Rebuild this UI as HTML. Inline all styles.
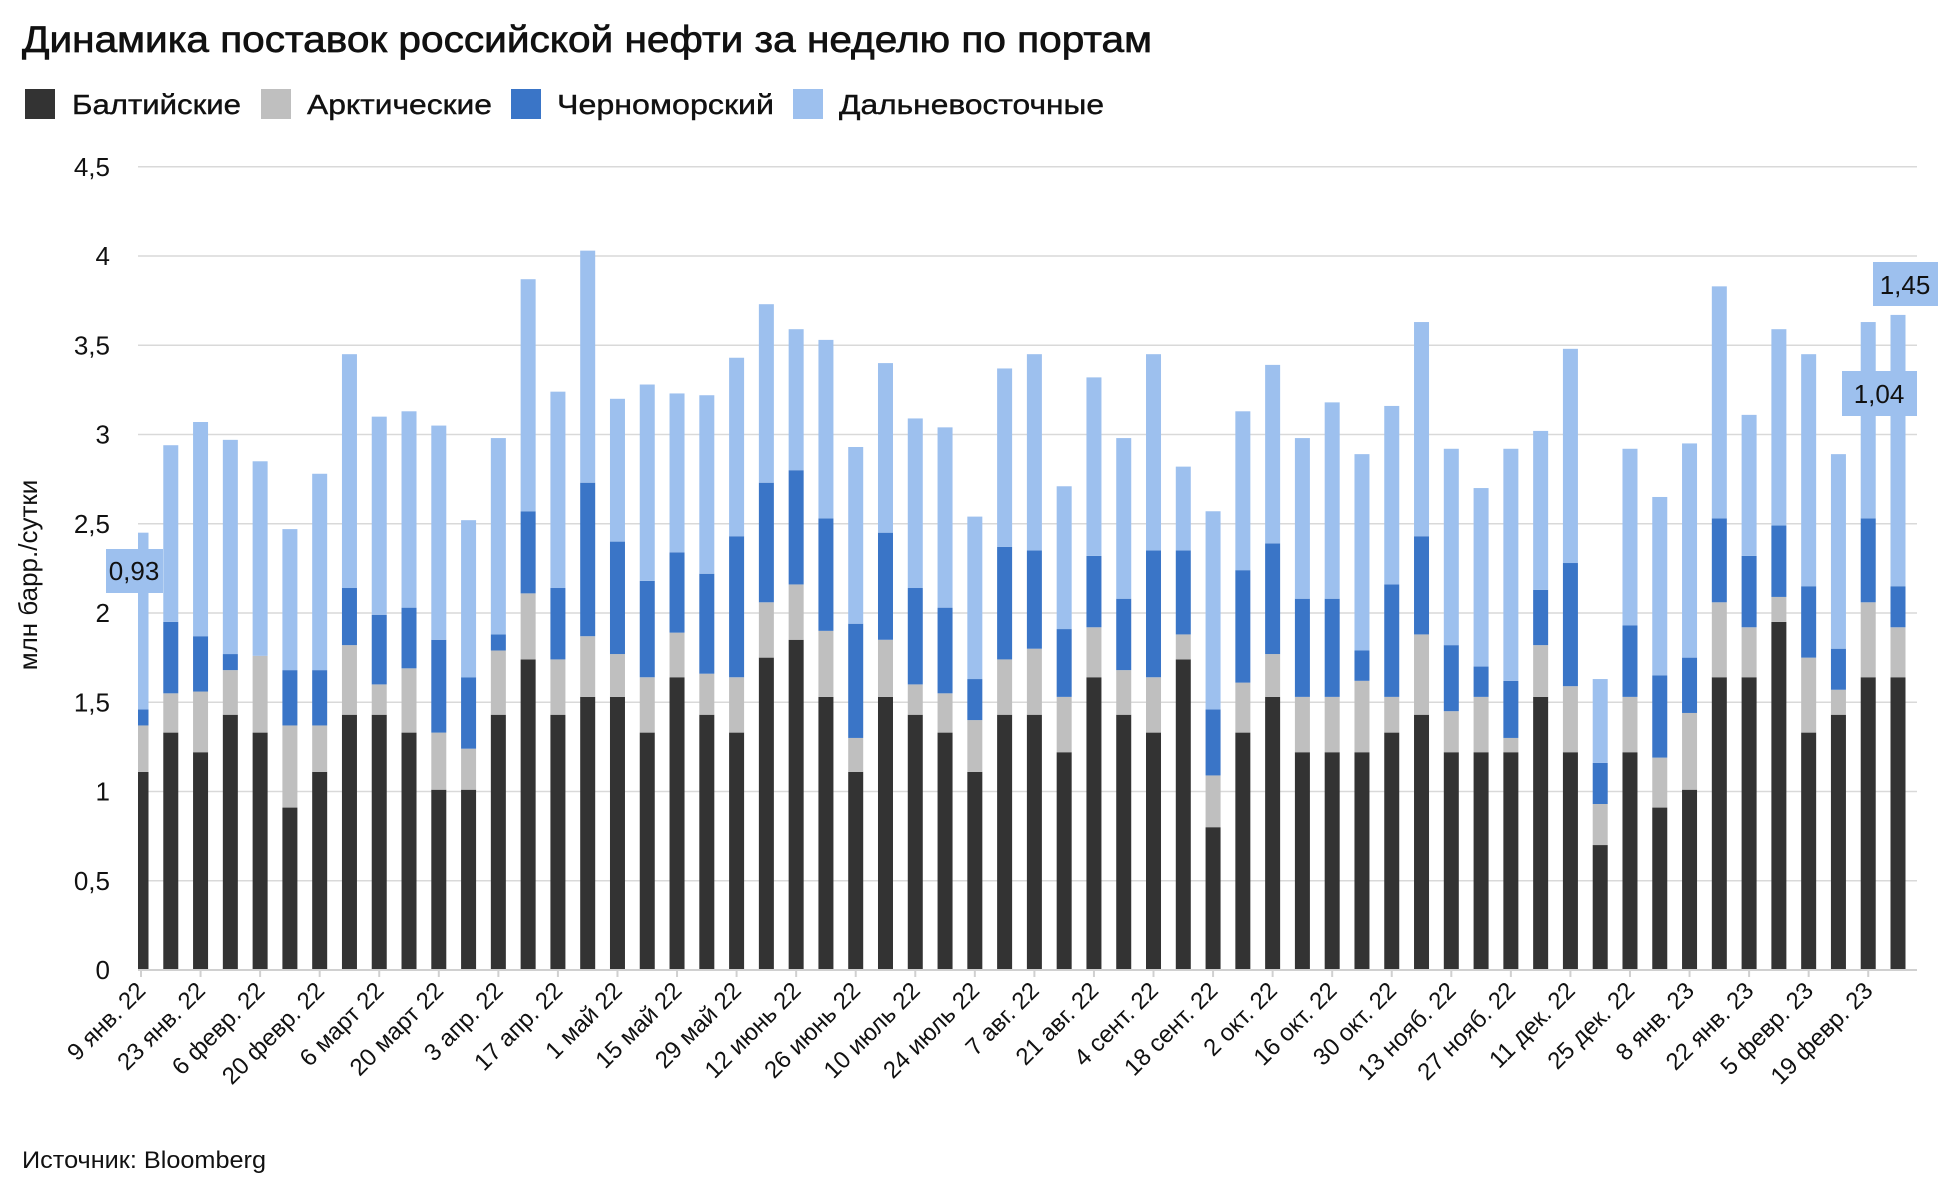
<!DOCTYPE html>
<html><head><meta charset="utf-8"><style>
html,body{margin:0;padding:0;background:#fff;}
svg{display:block;font-family:"Liberation Sans","DejaVu Sans",sans-serif;}
</style></head><body>
<svg id="chart" width="1948" height="1186" viewBox="0 0 1948 1186" xmlns="http://www.w3.org/2000/svg">
<text x="22" y="52" font-size="37" textLength="1130" lengthAdjust="spacingAndGlyphs" fill="#111" stroke="#111" stroke-width="0.7">Динамика поставок российской нефти за неделю по портам</text>
<g>
<g><rect x="25" y="89" width="30" height="30" fill="#333333"/><text x="72" y="114" font-size="28" textLength="169" lengthAdjust="spacingAndGlyphs" fill="#111" stroke="#111" stroke-width="0.4">Балтийские</text></g>
<g><rect x="261" y="89" width="30" height="30" fill="#bfbfbf"/><text x="307" y="114" font-size="28" textLength="185" lengthAdjust="spacingAndGlyphs" fill="#111" stroke="#111" stroke-width="0.4">Арктические</text></g>
<g><rect x="511" y="89" width="30" height="30" fill="#3a75c7"/><text x="557" y="114" font-size="28" textLength="217" lengthAdjust="spacingAndGlyphs" fill="#111" stroke="#111" stroke-width="0.4">Черноморский</text></g>
<g><rect x="793" y="89" width="30" height="30" fill="#9dc0ee"/><text x="839" y="114" font-size="28" textLength="265" lengthAdjust="spacingAndGlyphs" fill="#111" stroke="#111" stroke-width="0.4">Дальневосточные</text></g>
</g>
<text transform="translate(37,575) rotate(-90)" text-anchor="middle" font-size="26" fill="#111">млн барр./сутки</text>
<g id="grid"></g><g id="bars"></g><g id="xaxis"></g>
<g><rect x="106" y="549" width="57" height="44" fill="#9dc0ee"/><text x="134" y="580" text-anchor="middle" font-size="26" fill="#111">0,93</text></g>
<g><rect x="1842" y="371" width="75" height="45" fill="#9dc0ee"/><text x="1879" y="403" text-anchor="middle" font-size="26" fill="#111">1,04</text></g>
<g><rect x="1873" y="262" width="65" height="44" fill="#9dc0ee"/><text x="1905" y="294" text-anchor="middle" font-size="26" fill="#111">1,45</text></g>
<text x="22" y="1168" font-size="24" textLength="244" lengthAdjust="spacingAndGlyphs" fill="#111">Источник: Bloomberg</text>
</svg>
<script>
const baltic=[1.11,1.33,1.22,1.43,1.33,0.91,1.11,1.43,1.43,1.33,1.01,1.01,1.43,1.74,1.43,1.53,1.53,1.33,1.64,1.43,1.33,1.75,1.85,1.53,1.11,1.53,1.43,1.33,1.11,1.43,1.43,1.22,1.64,1.43,1.33,1.74,0.80,1.33,1.53,1.22,1.22,1.22,1.33,1.43,1.22,1.22,1.22,1.53,1.22,0.70,1.22,0.91,1.01,1.64,1.64,1.95,1.33,1.43,1.64,1.64];
const arctic=[0.26,0.22,0.34,0.25,0.43,0.46,0.26,0.39,0.17,0.36,0.32,0.23,0.36,0.37,0.31,0.34,0.24,0.31,0.25,0.23,0.31,0.31,0.31,0.37,0.19,0.32,0.17,0.22,0.29,0.31,0.37,0.31,0.28,0.25,0.31,0.14,0.29,0.28,0.24,0.31,0.31,0.40,0.20,0.45,0.23,0.31,0.08,0.29,0.37,0.23,0.31,0.28,0.43,0.42,0.28,0.14,0.42,0.14,0.42,0.28];
const blackSea=[0.09,0.40,0.31,0.09,0.00,0.31,0.31,0.32,0.39,0.34,0.52,0.40,0.09,0.46,0.40,0.86,0.63,0.54,0.45,0.56,0.79,0.67,0.64,0.63,0.64,0.60,0.54,0.48,0.23,0.63,0.55,0.38,0.40,0.40,0.71,0.47,0.37,0.63,0.62,0.55,0.55,0.17,0.63,0.55,0.37,0.17,0.32,0.31,0.69,0.23,0.40,0.46,0.31,0.47,0.40,0.40,0.40,0.23,0.47,0.23];
const farEast=[0.99,0.99,1.20,1.20,1.09,0.79,1.10,1.31,1.11,1.10,1.20,0.88,1.10,1.30,1.10,1.30,0.80,1.10,0.89,1.00,1.00,1.00,0.79,1.00,0.99,0.95,0.95,1.01,0.91,1.00,1.10,0.80,1.00,0.90,1.10,0.47,1.11,0.89,1.00,0.90,1.10,1.10,1.00,1.20,1.10,1.00,1.30,0.89,1.20,0.47,0.99,1.00,1.20,1.30,0.79,1.10,1.30,1.09,1.10,1.52];
const xLabels=["9 янв. 22","23 янв. 22","6 февр. 22","20 февр. 22","6 март 22","20 март 22","3 апр. 22","17 апр. 22","1 май 22","15 май 22","29 май 22","12 июнь 22","26 июнь 22","10 июль 22","24 июль 22","7 авг. 22","21 авг. 22","4 сент. 22","18 сент. 22","2 окт. 22","16 окт. 22","30 окт. 22","13 нояб. 22","27 нояб. 22","11 дек. 22","25 дек. 22","8 янв. 23","22 янв. 23","5 февр. 23","19 февр. 23"];
const yTicks=[0,0.5,1,1.5,2,2.5,3,3.5,4,4.5];
const yTickLabels=["0","0,5","1","1,5","2","2,5","3","3,5","4","4,5"];

const NS="http://www.w3.org/2000/svg";
const plotL=138,plotR=1917,y0=970,pxPerUnit=178.5;
const x0=141,step=(1898-141)/59,bw=15;
const y=v=>y0-v*pxPerUnit;
const xc=i=>x0+i*step;
function mk(tag,attrs,parent){const e=document.createElementNS(NS,tag);for(const k in attrs)e.setAttribute(k,attrs[k]);parent.appendChild(e);return e;}
const grid=document.getElementById('grid'),bars=document.getElementById('bars'),xa=document.getElementById('xaxis');
yTicks.forEach((t,k)=>{
  if(t>0){const l=mk('line',{x1:plotL,x2:plotR,y1:y(t),y2:y(t),stroke:'#d9d9d9','stroke-width':1.5},grid);
  
  }
  const tx=mk('text',{x:110,y:y(t)+9,'text-anchor':'end','font-size':26,fill:'#111'},grid);
  tx.textContent=yTickLabels[k];
  
  
});
const series=[[baltic,'#333333','baltic'],[arctic,'#bfbfbf','arctic'],[blackSea,'#3a75c7','black-sea'],[farEast,'#9dc0ee','far-east']];
const clip=mk('clipPath',{id:'pc'},bars);mk('rect',{x:plotL,y:0,width:plotR-plotL,height:y0},clip);
bars.setAttribute('clip-path','url(#pc)');
baltic.forEach((_,i)=>{
  let acc=0;
  series.forEach(([arr,col,nm])=>{
    const v=arr[i];
    if(v>0){const r=mk('rect',{x:xc(i)-bw/2,y:y(acc+v),width:bw,height:v*pxPerUnit,fill:col},bars);
    
    }
    acc+=v;
  });
});
const ax=mk('line',{x1:plotL,x2:plotR,y1:y0,y2:y0,stroke:'#d0d0d0','stroke-width':2},xa);


xLabels.forEach((lab,k)=>{
  const i=k*2,cx=xc(i);
  mk('line',{x1:cx,x2:cx,y1:y0,y2:y0+7,stroke:'#d0d0d0','stroke-width':2},xa);
  const t=mk('text',{transform:`translate(${cx+6},${y0+22}) rotate(-45)`,'text-anchor':'end','font-size':24,fill:'#111'},xa);
  t.textContent=lab;
  
  
});
</script>
</body></html>
